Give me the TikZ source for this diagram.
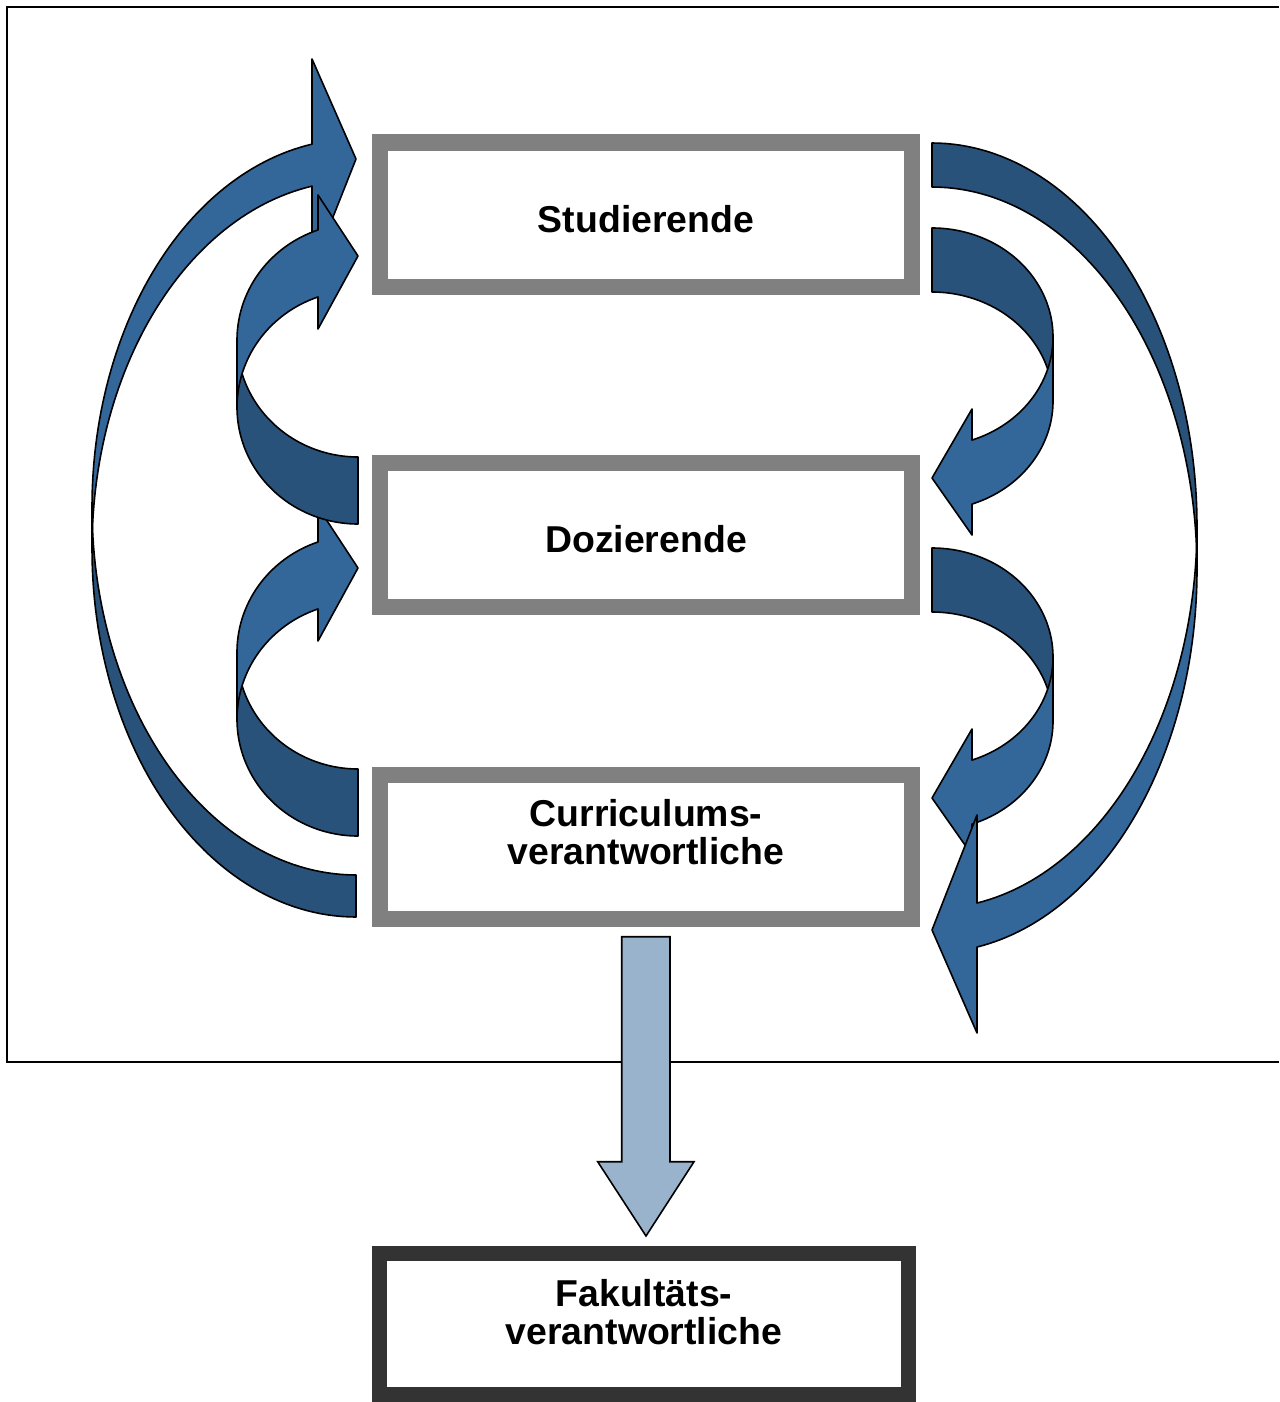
\documentclass[tikz,border=0pt]{standalone}
\usepackage{fontspec}
\setmainfont{Liberation Sans}
\definecolor{front}{RGB}{51,102,153}
\definecolor{back}{RGB}{41,82,122}
\definecolor{downblue}{RGB}{153,179,204}
\definecolor{boxgray}{RGB}{128,128,128}
\definecolor{boxdark}{RGB}{51,51,51}
\newcommand{\LeftCurve}[9]{%
  \filldraw[backpart] ({#1-#2},#4) -- plot[domain=180:90] ({#1+#2*cos(\x)},{#4+#3*sin(\x)})
    -- plot[domain=90:180] ({#1+#2*cos(\x)},{#5+#3*sin(\x)}) -- cycle;
  \filldraw[frontpart] ({#1-#2},#4) -- plot[domain=180:#6] ({#1+#2*cos(\x)},{#4+#3*sin(\x)})
    -- ({#1+#2*cos(#6)},#7) -- (#1,#9) -- ({#1+#2*cos(#6)},#8)
    -- plot[domain=#6:180] ({#1+#2*cos(\x)},{#5+#3*sin(\x)}) -- cycle;}
\newcommand{\RightCurve}[9]{%
  \filldraw[backpart] ({#1+#2},#4) -- plot[domain=360:270] ({#1+#2*cos(\x)},{#4+#3*sin(\x)})
    -- plot[domain=270:360] ({#1+#2*cos(\x)},{#5+#3*sin(\x)}) -- cycle;
  \filldraw[frontpart] ({#1+#2},#5) -- plot[domain=0:#6] ({#1+#2*cos(\x)},{#5+#3*sin(\x)})
    -- ({#1+#2*cos(#6)},#8) -- (#1,#9) -- ({#1+#2*cos(#6)},#7)
    -- plot[domain=#6:0] ({#1+#2*cos(\x)},{#4+#3*sin(\x)}) -- cycle;}
\begin{document}
\begin{tikzpicture}[x=0.5pt,y=-0.5pt,
  frontpart/.style={fill=front, draw=black, line width=0.8pt, line join=round},
  backpart/.style={fill=back, draw=black, line width=0.8pt, line join=round},
  graybox/.style={draw=boxgray, line width=8pt, fill=white, minimum width=266pt, minimum height=72pt, inner sep=0pt},
  darkbox/.style={draw=boxdark, line width=7.5pt, fill=white, minimum width=264.5pt, minimum height=70.5pt, inner sep=0pt},
  lbl/.style={font=\fontsize{18.7}{19}\selectfont\bfseries, align=center, inner sep=0pt},
  every plot/.style={samples=60}]
\useasboundingbox (0,0) rectangle (1279,1402);
% frame
\draw[line width=1pt] (1279,7) -- (7,7) -- (7,1062) -- (1279,1062);
% boxes
\node[graybox] (stud) at (646,214.5) {};
\node[graybox] (doz) at (646,534.5) {};
\node[graybox] (curr) at (646,846.5) {};
\node[darkbox] (fak) at (644,1324) {};
\node[lbl] (tstud) at (646,219) {Studierende};
\node[lbl] (tdoz) at (646,539) {Dozierende};
\node[lbl] (tcurr) at (646,832) {Curriculums-\\verantwortliche};
\node[lbl] (tfak) at (644,1312) {Fakultäts-\\verantwortliche};
% down arrow
\coordinate (dtop) at (646,936.7);
\coordinate (dtip) at (646,1236);
\filldraw[fill=downblue, draw=black, line width=0.8pt, line join=miter]
  (621.7,936.7) -- (670,936.7) -- (670,1161.7) -- (694,1161.7) -- (dtip)
  -- (597.7,1161.7) -- (621.7,1161.7) -- cycle;
% left curved arrows
\LeftCurve{356}{264}{368}{507}{549}{260.41}{59}{270}{159}
\LeftCurve{358}{121}{116.8}{652.2}{719.2}{250.7}{507}{641}{568}
\LeftCurve{358}{121}{116.8}{340.2}{407.2}{250.7}{195}{329}{256}
% right curved arrows
\RightCurve{932}{121}{109.1}{657.1}{721.1}{70.7}{729}{855}{798}
\RightCurve{932}{121}{109.1}{337.1}{401.1}{70.7}{409}{535}{478}
\RightCurve{932}{265}{382.8}{525.8}{569.8}{80.22}{815}{1033}{930}
\end{tikzpicture}
\end{document}
